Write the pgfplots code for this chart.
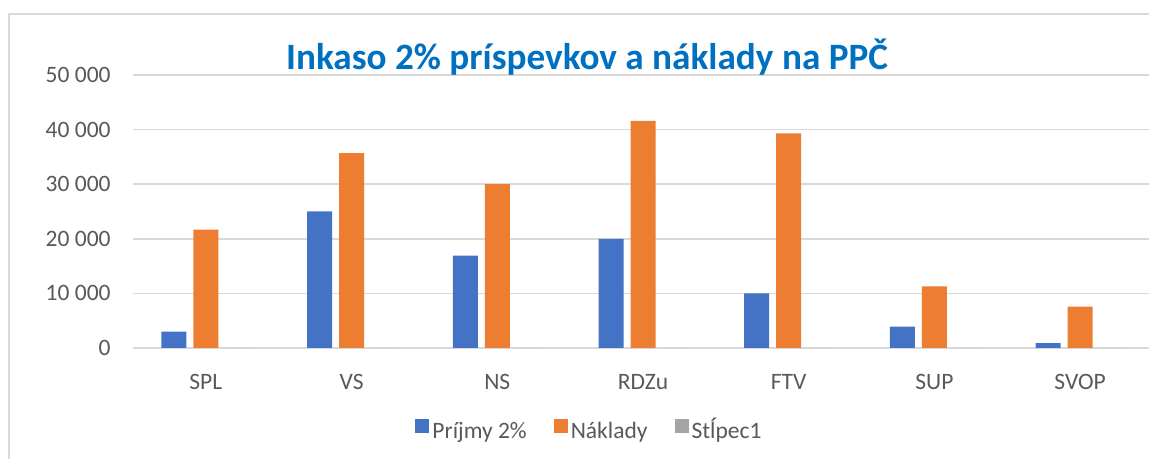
\documentclass[border=0pt]{standalone}
\usepackage{pgfplots}
\pgfplotsset{compat=1.18}
\usepackage{fontspec}
\setmainfont{Carlito}
\definecolor{cBlue}{HTML}{4472C4}
\definecolor{cOrange}{HTML}{ED7D31}
\definecolor{cGray}{HTML}{A5A5A5}
\definecolor{cTitle}{HTML}{0070C0}
\definecolor{cText}{HTML}{595959}
\definecolor{cGrid}{HTML}{D9D9D9}
\begin{document}
\begin{tikzpicture}
\useasboundingbox (0,0) rectangle (574.5pt,229.5pt);
\fill[white] (0,0) rectangle (574.5pt,229.5pt);
\draw[cGrid, line width=0.8pt] (4.5pt,-5pt) -- (4.5pt,222.5pt) -- (590pt,222.5pt);
\begin{axis}[
  at={(66.5pt,55.5pt)}, anchor=south west,
  scale only axis, width=510pt, height=136.5pt,
  ybar=3.5pt, bar width=12.5pt,
  xmin=-0.5, xmax=6.5, ymin=0, ymax=50000,
  xtick={0,1,2,3,4,5,6},
  xticklabels={SPL,VS,NS,RDZu,FTV,SUP,SVOP},
  ytick={0,10000,20000,30000,40000,50000},
  axis line style={draw=none},
  major tick length=0pt,
  ymajorgrids, major grid style={cGrid, line width=0.75pt},
  /pgf/number format/assume math mode=true,
  /pgf/number format/1000 sep={\ },
  scaled y ticks=false,
  ticklabel style={font=\fontsize{11.75}{14}\selectfont, text=cText},
  y tick label style={anchor=east, inner sep=0pt, xshift=-11pt},
  x tick label style={anchor=base, inner sep=0pt, yshift=-20.75pt},
  legend columns=3,
  legend style={at={(0.448,-0.308)}, anchor=center, draw=none, fill=none,
    font=\fontsize{11.75}{14}\selectfont, text=cText,
    /tikz/column 2/.style={column sep=12pt},
    /tikz/column 4/.style={column sep=12pt},
    nodes={inner sep=1.5pt, text height=8.5pt, text depth=2.5pt}},
  legend image code/.code={\fill[#1] (0pt,-0.5pt) rectangle (7pt,6.5pt);},
  clip=false,
]
\addplot[draw=none, fill=cBlue] coordinates {(0,3000) (1,25000) (2,16900) (3,20000) (4,10000) (5,3900) (6,900)};
\addplot[draw=none, fill=cOrange] coordinates {(0,21700) (1,35700) (2,30000) (3,41600) (4,39300) (5,11300) (6,7600)};
\addplot[draw=none, fill=cGray] coordinates {(0,0) (1,0) (2,0) (3,0) (4,0) (5,0) (6,0)};
\legend{Príjmy 2\%, Náklady, Stĺpec1}
\end{axis}
\node[anchor=base, font=\fontsize{18.6}{22}\selectfont\bfseries, text=cTitle] at (293.5pt,194.5pt) {Inkaso 2\% príspevkov a náklady na PPČ};
\end{tikzpicture}
\end{document}
